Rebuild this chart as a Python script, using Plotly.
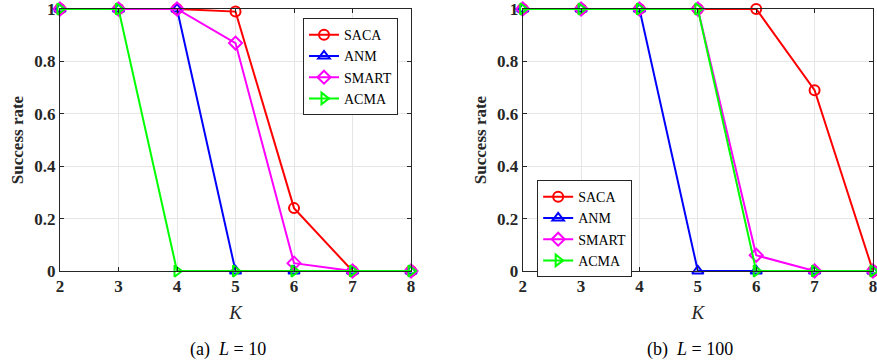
import plotly.graph_objects as go

K = [2, 3, 4, 5, 6, 7, 8]
series_names = ["SACA", "ANM", "SMART", "ACMA"]
# (a) L = 10
saca_a = [1, 1, 1, 0.99, 0.24, 0, 0]
anm_a = [1, 1, 1, 0, 0, 0, 0]
smart_a = [1, 1, 1, 0.87, 0.03, 0, 0]
acma_a = [1, 1, 0, 0, 0, 0, 0]
# (b) L = 100
saca_b = [1, 1, 1, 1, 1, 0.69, 0]
anm_b = [1, 1, 1, 0, 0, 0, 0]
smart_b = [1, 1, 1, 1, 0.06, 0, 0]
acma_b = [1, 1, 1, 1, 0, 0, 0]
y_ticks = [0, 0.2, 0.4, 0.6, 0.8, 1]
y_ticklabels = ["0", "0.2", "0.4", "0.6", "0.8", "1"]

colors = ["#ff0000", "#0000ff", "#ff00ff", "#00ff00"]
symbols = ["circle-open", "triangle-up-open", "diamond-open", "triangle-right-open"]
SERIF = "Liberation Serif, Times New Roman, DejaVu Serif, serif"

fig = go.Figure()
for panel, data in enumerate([[saca_a, anm_a, smart_a, acma_a], [saca_b, anm_b, smart_b, acma_b]]):
    xa = "x" if panel == 0 else "x2"
    ya = "y" if panel == 0 else "y2"
    for i, vals in enumerate(data):
        fig.add_trace(go.Scatter(
            x=K, y=vals, mode="lines+markers", name=series_names[i],
            line=dict(color=colors[i], width=2),
            marker=dict(symbol=symbols[i], size=10, color=colors[i], line=dict(width=2, color=colors[i])),
            xaxis=xa, yaxis=ya, legend="legend" if panel == 0 else "legend2",
            cliponaxis=False,
        ))

common_x = dict(range=[2, 8], tickvals=K, showgrid=True, gridcolor="#e6e6e6", zeroline=False,
                showline=True, linecolor="#262626", linewidth=1, mirror="ticks", ticks="inside",
                ticklen=4, tickcolor="#262626", tickfont=dict(family=SERIF, size=17, color="#262626"),
                automargin=False, ticklabeloverflow="allow",
                title=dict(text="<i>K</i>", font=dict(family=SERIF, size=19, color="#262626"), standoff=10))
common_y = dict(range=[0, 1], tickvals=y_ticks, ticktext=["<b>%s</b>" % t for t in y_ticklabels],
                showgrid=True, gridcolor="#e6e6e6", zeroline=False,
                showline=True, linecolor="#262626", linewidth=1, mirror="ticks", ticks="inside",
                ticklen=4, tickcolor="#262626", tickfont=dict(family=SERIF, size=17, color="#262626"),
                automargin=False, ticklabeloverflow="allow",
                title=dict(text="<b>Success rate</b>", font=dict(family=SERIF, size=17, color="#262626"), standoff=6))

xt = ["<b>%d</b>" % k for k in K]
fig.update_layout(
    width=877, height=364, margin=dict(l=0, r=0, t=0, b=0),
    plot_bgcolor="white", paper_bgcolor="white",
    font=dict(family=SERIF),
    xaxis=dict(domain=[0.0684, 0.4687], anchor="y", ticktext=xt, **common_x),
    yaxis=dict(domain=[0.2555, 0.9753], anchor="x", **common_y),
    xaxis2=dict(domain=[0.596, 0.9954], anchor="y2", ticktext=xt, **common_x),
    yaxis2=dict(domain=[0.2555, 0.9753], anchor="x2", **common_y),
    legend=dict(x=0.3455, y=0.95, xanchor="left", yanchor="top", bgcolor="white",
                bordercolor="#262626", borderwidth=1, font=dict(family=SERIF, size=14, color="#000"),
                tracegroupgap=0, itemwidth=30),
    legend2=dict(x=0.6125, y=0.505, xanchor="left", yanchor="top", bgcolor="white",
                 bordercolor="#262626", borderwidth=1, font=dict(family=SERIF, size=14, color="#000"),
                 tracegroupgap=0, itemwidth=30),
    showlegend=True,
    annotations=[
        dict(text="(a)  <i>L</i> = 10", x=228 / 877, y=1 - 349 / 364, xref="paper", yref="paper",
             showarrow=False, font=dict(family=SERIF, size=18, color="#000"), xanchor="center", yanchor="middle"),
        dict(text="(b)  <i>L</i> = 100", x=690 / 877, y=1 - 349 / 364, xref="paper", yref="paper",
             showarrow=False, font=dict(family=SERIF, size=18, color="#000"), xanchor="center", yanchor="middle"),
    ],
)
fig.write_html("out.html", config={"displayModeBar": False},
               post_script="document.body.style.margin='0';")
